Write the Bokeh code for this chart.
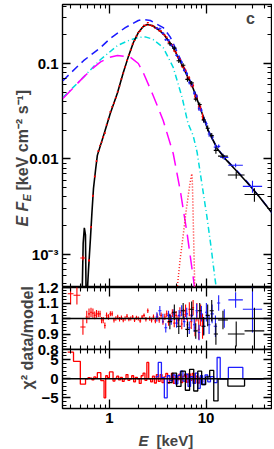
import numpy as np
from bokeh.plotting import figure
from bokeh.layouts import column
from bokeh.models import LogAxis, LinearAxis, FixedTicker, Label, Range1d, Span
from bokeh.embed import file_html
from bokeh.resources import INLINE

# ---------------- model components (E [keV], E F_E [keV cm^-2 s^-1]) ----------------
total_e = [0.52, 0.535, 0.55, 0.565, 0.575, 0.59, 0.607, 0.637, 0.66, 0.684,
           0.72, 0.75, 0.87, 1.02, 1.21, 1.39, 1.57, 1.77, 1.99, 2.24,
           2.46, 2.77, 3.2, 3.6, 4.57, 5.8, 7.35, 8.66, 10.5, 13.0,
           16.4, 19.9, 26.4, 35.0, 45.7, 50.0]
total_f = [3e-4, 1.3e-3, 1.9e-3, 1.6e-3, 3e-4, 4e-4, 6.8e-4, 1.5e-3, 2.8e-3, 4.9e-3,
           7.8e-3, 0.0109, 0.0176, 0.030, 0.049, 0.080, 0.118, 0.166, 0.211, 0.244,
           0.256, 0.25, 0.227, 0.206, 0.147, 0.091, 0.0547, 0.0346, 0.0199, 0.0129,
           0.0096, 0.0078, 0.0057, 0.0041, 0.0029, 0.0026]

unabs_e = [0.33, 0.40, 0.54, 0.81, 1.02, 1.46, 1.99, 2.24, 2.65, 3.6, 4.25, 4.57,
           5.8, 7.35, 8.66, 10.5, 13.0, 16.4, 19.9, 26.4, 35.0, 50.0]
unabs_f = [0.066, 0.080, 0.107, 0.147, 0.183, 0.238, 0.282, 0.289, 0.282, 0.238, 0.19, 0.163,
           0.095, 0.0565, 0.0352, 0.0201, 0.013, 0.0097, 0.0079, 0.0058, 0.0041, 0.0026]

comp1_e = [0.33, 0.54, 0.68, 0.81, 1.21, 1.6, 1.99, 2.35, 2.8, 3.6, 4.57,
           5.65, 6.5, 7.35, 8.08, 9.1, 10.25, 11.3, 12.35, 13.3, 15.0]
comp1_f = [0.044, 0.072, 0.092, 0.110, 0.154, 0.175, 0.187, 0.19, 0.18, 0.147, 0.091,
           0.044, 0.0236, 0.0176, 0.0117, 0.0053, 0.0024, 0.00116, 5.6e-4, 3.3e-4, 1.2e-4]

comp2_e = [0.33, 0.54, 0.68, 0.81, 1.0, 1.21, 1.45, 1.65, 1.99, 2.24, 2.84,
           3.6, 4.57, 5.4, 6.36, 7.35, 7.9, 8.5]
comp2_f = [0.043, 0.072, 0.090, 0.104, 0.116, 0.121, 0.119, 0.116, 0.100, 0.080, 0.046,
           0.0253, 0.0114, 0.0047, 0.00166, 5.8e-4, 3.3e-4, 1.8e-4]

line_e = [4.9, 5.4, 5.83, 6.2, 6.58, 6.9, 7.13, 7.2, 7.3, 7.4, 7.5, 7.6, 7.75]
line_f = [3.5e-4, 9e-4, 1.66e-3, 2.8e-3, 4.35e-3, 6.0e-3, 7.0e-3, 6.0e-3,
          3.5e-3, 1.8e-3, 1.0e-3, 5.5e-4, 2.5e-4]

# ---------------- data: bin edges, data/model ratio, error, chi ----------------
red_edges = [0.37, 0.425, 0.50, 0.566, 0.60, 0.63, 0.66, 0.69, 0.72, 0.75,
             0.785, 0.815, 0.845, 0.88, 0.915, 0.955, 1.0, 1.045, 1.09, 1.14,
             1.19, 1.245, 1.30, 1.36, 1.42, 1.485, 1.555, 1.625, 1.70, 1.78,
             1.86, 1.945, 2.035, 2.13, 2.23, 2.33, 2.44, 2.55, 2.67, 2.79,
             2.92, 3.06, 3.2, 3.35, 3.5, 3.66, 3.83, 4.0, 4.19, 4.38,
             4.58, 4.79, 5.01, 5.24, 5.48, 5.73, 6.0, 6.27, 6.56, 6.86,
             7.18, 7.51, 7.85, 8.21, 8.59, 8.98, 9.4]
red_ratio = [1.16, 1.15, 0.945, 1.01, 1.03, 1.04, 1.035, 1.02, 1.03, 1.03,
             1.03, 0.99, 0.99, 0.955, 1.02, 1.01, 1.03, 1.03, 0.99, 1.0,
             1.01, 0.995, 1.005, 0.99, 1.0, 1.015, 0.995, 1.0, 1.01, 0.99,
             1.005, 1.0, 0.985, 1.01, 1.02, 0.995, 1.05, 1.0, 0.99, 1.01,
             0.985, 1.015, 0.99, 1.02, 0.98, 1.01, 1.03, 0.975, 1.0, 1.035,
             0.97, 1.02, 0.99, 1.04, 0.965, 1.025, 1.05, 0.96, 1.06, 0.98,
             1.07, 0.94, 1.04, 0.93, 1.02, 0.95]
red_err = [0.07, 0.06, 0.05, 0.04, 0.035, 0.03, 0.03, 0.025, 0.025, 0.02,
           0.02, 0.02, 0.02, 0.02, 0.018, 0.018, 0.016, 0.016, 0.015, 0.015,
           0.015, 0.014, 0.014, 0.014, 0.014, 0.014, 0.013, 0.013, 0.013, 0.013,
           0.013, 0.013, 0.013, 0.013, 0.013, 0.014, 0.014, 0.015, 0.015, 0.016,
           0.016, 0.017, 0.018, 0.018, 0.02, 0.02, 0.022, 0.022, 0.024, 0.025,
           0.026, 0.028, 0.03, 0.032, 0.035, 0.038, 0.04, 0.042, 0.045, 0.048,
           0.05, 0.055, 0.06, 0.065, 0.07, 0.08]
red_chi = [7.0, 4.6, -1.4, 0.0, 0.3, 0.2, -0.3, 0.5, 0.2, 1.6,
           1.6, -0.5, -0.5, -5.0, 0.8, 0.3, 1.8, 1.8, -0.6, 0.1,
           0.7, -0.3, 0.4, -0.7, 0.0, 1.1, -0.4, 0.0, 0.8, -0.8,
           0.4, 0.0, -1.2, 0.8, 1.5, -0.4, 4.3, 0.0, -0.8, 0.7,
           -1.1, 1.1, -0.7, 1.1, -1.0, 0.5, 1.4, -1.1, 0.0, 1.4,
           -1.2, 0.7, -0.3, 1.2, -1.0, 0.7, 1.2, -0.9, 1.3, -0.4,
           1.4, -1.1, 0.7, -1.1, 0.3, -0.6]

blue_edges = [3.0, 3.2, 3.45, 3.7, 3.96, 4.22, 4.5, 4.8, 5.1, 5.42,
              5.76, 6.12, 6.5, 6.9, 7.32, 7.76, 8.22, 8.7, 9.2, 9.75,
              10.4, 11.1, 12.0, 13.0, 14.0, 17.0, 24.0, 38.0]
blue_ratio = [1.01, 1.05, 1.0, 0.94, 1.02, 0.99, 1.03, 0.97, 1.02, 1.05,
              0.98, 1.03, 0.94, 1.02, 0.96, 1.05, 0.91, 1.03, 0.95, 1.04,
              0.96, 1.03, 0.95, 1.10, 1.0, 1.12, 1.06]
blue_err = [0.03, 0.03, 0.03, 0.03, 0.03, 0.03, 0.03, 0.03, 0.035, 0.035,
            0.035, 0.04, 0.04, 0.04, 0.045, 0.045, 0.05, 0.05, 0.055, 0.06,
            0.06, 0.06, 0.07, 0.05, 0.06, 0.05, 0.15]
blue_chi = [0.5, 4.3, 0.3, -5.0, 0.8, -0.5, 1.0, -1.3, 0.9, 2.0,
            -0.6, 1.2, -2.0, 0.6, -1.2, 1.5, -2.5, 0.8, -1.5, 1.0,
            -0.8, 0.6, -1.0, 5.6, 0.0, 3.0, 0.0]

black_edges = [4.0, 4.45, 4.95, 5.5, 6.1, 6.75, 7.45, 8.2, 9.0, 9.9,
               10.9, 12.0, 13.3, 16.8, 25.0, 40.0]
black_ratio = [0.98, 1.04, 0.95, 1.05, 0.93, 1.06, 0.92, 1.05, 0.95, 1.02,
               1.05, 0.90, 0.99, 0.90, 0.92]
black_err = [0.05, 0.05, 0.05, 0.05, 0.05, 0.05, 0.05, 0.05, 0.06, 0.07,
             0.07, 0.07, 0.06, 0.08, 0.15]
black_chi = [-1.0, 1.5, -2.0, 2.0, -3.0, 2.5, -3.2, 2.0, -1.5, 0.5,
             2.2, -5.8, 0.0, -1.9, 0.0]

# tick values
x_major = [1, 10]
x_minor = [0.4, 0.5, 0.6, 0.7, 0.8, 0.9, 2, 3, 4, 5, 6, 7, 8, 9, 20, 30, 40]
f_major = [0.001, 0.01, 0.1]
f_minor = [5e-4, 6e-4, 7e-4, 8e-4, 9e-4, 0.002, 0.003, 0.004, 0.005, 0.006, 0.007,
           0.008, 0.009, 0.02, 0.03, 0.04, 0.05, 0.06, 0.07, 0.08, 0.09, 0.2, 0.3, 0.4]
r_major = [0.8, 0.9, 1.0, 1.1, 1.2]
r_minor = [0.82, 0.84, 0.86, 0.88, 0.92, 0.94, 0.96, 0.98, 1.02, 1.04, 1.06, 1.08,
           1.12, 1.14, 1.16, 1.18]
c_major = [-5, 0, 5]
c_minor = [-7, -6, -4, -3, -2, -1, 1, 2, 3, 4, 6, 7]

RED, BLUE, BLK = "#ff0000", "#1f1fff", "#000000"
FONT = "Liberation Sans"
FW = 209
XR = Range1d(0.327, 47.5)


def make_fig(h, ytype, yr, top, bottom, styles):
    p = figure(x_axis_type="log", y_axis_type=ytype, x_range=XR, y_range=yr,
               frame_width=FW, frame_height=h, min_border_left=62, min_border_right=1,
               min_border_top=top, min_border_bottom=bottom,
               output_backend="svg", toolbar_location=None, styles=styles)
    p.border_fill_alpha = 0
    p.background_fill_color = "white"
    p.outline_line_color = "black"
    p.outline_line_width = 1.4
    p.xgrid.visible = False
    p.ygrid.visible = False
    return p


def style_axis(ax, ticker, labels=False, overrides=None, tick_len=8):
    ax.ticker = ticker
    ax.axis_line_color = None
    ax.major_tick_in = tick_len
    ax.major_tick_out = 0
    ax.minor_tick_in = 4
    ax.minor_tick_out = 0
    ax.major_tick_line_width = 1.3
    ax.minor_tick_line_width = 1.1
    if labels:
        ax.major_label_text_font = FONT
        ax.major_label_text_font_size = "15px"
        ax.major_label_text_font_style = "bold"
        ax.major_label_text_color = "black"
        ax.major_label_standoff = 4
        if overrides:
            ax.major_label_overrides = overrides
    else:
        ax.major_label_text_font_size = "1px"
        ax.major_label_text_alpha = 0
        ax.major_label_standoff = 0


def add_frame_axes(p, xticker, yticker, xlog, ylog, x_labels=False, x_over=None,
                   y_over=None):
    style_axis(p.xaxis[0], xticker, labels=x_labels, overrides=x_over, tick_len=9)
    style_axis(p.yaxis[0], yticker, labels=True, overrides=y_over)
    top = LogAxis() if xlog else LinearAxis()
    style_axis(top, xticker, tick_len=9)
    p.add_layout(top, "above")
    right = LogAxis() if ylog else LinearAxis()
    style_axis(right, yticker)
    p.add_layout(right, "right")


xt = FixedTicker(ticks=x_major, minor_ticks=x_minor)


def model_at(e):
    return 10 ** np.interp(np.log10(e), np.log10(total_e), np.log10(total_f))


def crosses(p, edges, ratio, err, color, scale=False):
    lo = np.array(edges[:-1])
    hi = np.array(edges[1:])
    c = np.sqrt(lo * hi)
    r = np.array(ratio)
    e = np.array(err)
    m = model_at(c) if scale else 1.0
    y = r * m
    dy = e * m
    p.segment(x0=lo, x1=hi, y0=y, y1=y, line_color=color, line_width=1.1)
    p.segment(x0=c, x1=c, y0=y - dy, y1=y + dy, line_color=color, line_width=1.1)


# ---------------- main panel ----------------
main = make_fig(283, "log", Range1d(4.5e-4, 0.415), 4, 0, {})
add_frame_axes(main, xt, FixedTicker(ticks=f_major, minor_ticks=f_minor), True, True,
               y_over={0.001: "10\u207b\u00b3", 0.01: "0.01", 0.1: "0.1"})

main.line(comp1_e, comp1_f, line_color="#00dcdc", line_width=1.5, line_dash="6 3 1 3")
main.line(comp2_e, comp2_f, line_color="#ff00ff", line_width=1.5, line_dash="14 7")
main.line(unabs_e, unabs_f, line_color="#1a1aff", line_width=1.5, line_dash="8 5")
main.line(line_e, line_f, line_color="#ff2020", line_width=1.5, line_dash="1 2")
main.line(total_e, total_f, line_color="black", line_width=1.6)
crosses(main, red_edges, red_ratio, red_err, RED, scale=True)
crosses(main, blue_edges, blue_ratio, blue_err, BLUE, scale=True)
crosses(main, black_edges, black_ratio, black_err, BLK, scale=True)

main.add_layout(Label(x=188, y=269, x_units="screen", y_units="screen", text="c",
                      text_font=FONT, text_font_size="16px", text_font_style="bold",
                      text_align="center", text_baseline="middle"))

# ---------------- ratio panel ----------------
ratio = make_fig(62, "linear", Range1d(0.8, 1.2), 9, 9, {"margin-top": "-9px"})
add_frame_axes(ratio, xt, FixedTicker(ticks=r_major, minor_ticks=r_minor), True, False,
               y_over={0.8: "0.8", 0.9: "0.9", 1.0: "1", 1.1: "1.1", 1.2: "1.2"})
ratio.add_layout(Span(location=1.0, dimension="width", line_color="black", line_width=1.4))
crosses(ratio, red_edges, red_ratio, red_err, RED)
crosses(ratio, blue_edges, blue_ratio, blue_err, BLUE)
crosses(ratio, black_edges, black_ratio, black_err, BLK)

# ---------------- chi panel ----------------
chi = make_fig(59, "linear", Range1d(-7.8, 7.7), 9, 22, {"margin-top": "-18px"})
add_frame_axes(chi, xt, FixedTicker(ticks=c_major, minor_ticks=c_minor), True, False,
               x_labels=True, x_over={1: "1", 10: "10"},
               y_over={-5: "\u22125", 0: "0", 5: "5"})
chi.add_layout(Span(location=0, dimension="width", line_color="black", line_width=1.4))
for edges, vals, col in [(red_edges, red_chi, RED), (blue_edges, blue_chi, BLUE),
                         (black_edges, black_chi, BLK)]:
    chi.step(x=list(edges), y=list(vals) + [vals[-1]], mode="after",
             line_color=col, line_width=1.3)

# ---------------- text overlay (page pixel coordinates, separate root) ----------------
over = figure(x_range=Range1d(0, 274), y_range=Range1d(449, 0), frame_width=274,
              frame_height=449, min_border=0, x_axis_location=None,
              y_axis_location=None, output_backend="svg", toolbar_location=None,
              styles={"position": "absolute", "left": "0px", "top": "0px"})
over.outline_line_color = None
over.background_fill_alpha = 0
over.border_fill_alpha = 0
over.xgrid.visible = False
over.ygrid.visible = False


def olabel(x, y, text, size="16px", style="bold", angle=0.0):
    over.add_layout(Label(x=x, y=y, text=text, angle=angle, text_font=FONT,
                          text_font_size=size, text_font_style=style,
                          text_align="left", text_baseline="alphabetic"))


up = np.pi / 2
olabel(22, 226, "E F", style="bold italic", angle=up)
olabel(26, 201, "E", size="11px", style="bold italic", angle=up)
olabel(22, 190, "[keV cm\u207b\u00b2 s\u207b\u00b9]", angle=up)
olabel(27, 389, "\u03c7\u00b2   data/model", angle=up)
olabel(138, 440, "E", size="15px", style="bold italic")
olabel(156, 440, "[keV]", size="15px")

layout = column(main, ratio, chi)
open("out.html", "w").write(file_html([layout, over], INLINE))
